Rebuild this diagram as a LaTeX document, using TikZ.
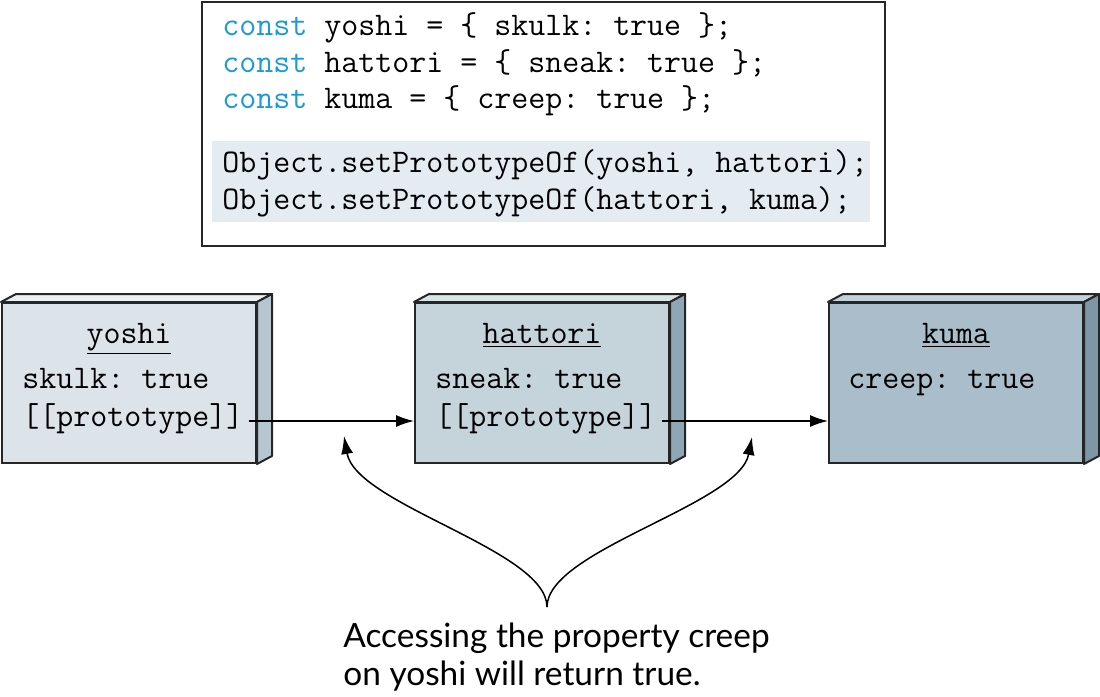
\documentclass[tikz,border=0pt]{standalone}
\usepackage{fontspec}
\newfontfamily\capfont{Lato}
\usetikzlibrary{arrows.meta}
\frenchspacing
\definecolor{constblue}{HTML}{1B9AD5}
\definecolor{codehl}{HTML}{E4ECF1}
\definecolor{yfront}{HTML}{DDE4E9}
\definecolor{ytop}{HTML}{EBF0F3}
\definecolor{yside}{HTML}{B5C6D0}
\definecolor{hfront}{HTML}{C5D3DB}
\definecolor{htop}{HTML}{DAE3E8}
\definecolor{hside}{HTML}{8FA6B4}
\definecolor{kfront}{HTML}{A9BECA}
\definecolor{ktop}{HTML}{C2D1DA}
\definecolor{kside}{HTML}{7E97A6}
\newcommand{\cdfont}{\ttfamily\frenchspacing\fontsize{16.5}{20}\selectfont}
\tikzset{
  front/.style={draw=black!85, line width=1pt, minimum width=127pt, minimum height=80pt, inner sep=0pt},
  face/.style={draw=black!85, line width=1pt, line join=round},
  code/.style={anchor=base west, inner sep=0pt, font=\cdfont},
  title/.style={anchor=base, inner sep=0pt, font=\cdfont},
  field/.style={anchor=base west, inner sep=0pt, font=\cdfont},
  link/.style={line width=0.75pt, -{Latex[length=9pt,width=6pt]}},
}
\begin{document}
\begin{tikzpicture}[x=0.5pt,y=-0.5pt]
\useasboundingbox (0,0) rectangle (1100,697);
% code box
\node[draw=black!85, line width=1pt, minimum width=341.5pt, minimum height=122pt, inner sep=0pt] (codebox) at (543.5,124) {};
\node[fill=codehl, minimum width=329pt, minimum height=40.5pt, inner sep=0pt] (hl) at (541,181.5) {};
\node[code] (c1) at (222,35) {\textcolor{constblue}{const} yoshi = \{ skulk: true \};};
\node[code] (c2) at (222,72) {\textcolor{constblue}{const} hattori = \{ sneak: true \};};
\node[code] (c3) at (222,108) {\textcolor{constblue}{const} kuma = \{ creep: true \};};
\node[code] (c4) at (222,172) {Object.setPrototypeOf(yoshi, hattori);};
\node[code] (c5) at (222,209) {Object.setPrototypeOf(hattori, kuma);};
% boxes
\foreach \nm/\cx/\fr/\tp/\sd in {yoshi/129/yfront/ytop/yside, hattori/542/hfront/htop/hside, kuma/956/kfront/ktop/kside}{
  \node[front, fill=\fr] (\nm) at (\cx,383) {};
  \draw[face, fill=\tp] (\nm.north west) -- ([shift={(15,-8)}]\nm.north west) -- ([shift={(15,-8)}]\nm.north east) -- (\nm.north east) -- cycle;
  \draw[face, fill=\sd] (\nm.north east) -- ([shift={(15,-8)}]\nm.north east) -- ([shift={(15,-8)}]\nm.south east) -- (\nm.south east) -- cycle;
  \node[title] (\nm t) at (\cx,343) {\underline{\nm}};
}
\node[field] (ys) at (22,388) {skulk: true};
\node[field] (yp) at (22,426) {[[prototype]]};
\node[field] (hs) at (435,388) {sneak: true};
\node[field] (hp) at (435,426) {[[prototype]]};
\node[field] (kc) at (848,388) {creep: true};
% links
\coordinate (ya) at ([shift={(5,-5)}]yp.base east);
\coordinate (ha) at ([shift={(5,-5)}]hp.base east);
\draw[link] (ya) -- (ya -| hattori.west);
\draw[link] (ha) -- (ha -| kuma.west);
% caption
\node[anchor=base west, inner sep=0pt, align=left, font=\capfont\fontsize{16.7}{19}\selectfont] (cap) at (343,685) {Accessing the property creep\\on yoshi will return true.};
\coordinate (cusp) at (547,607);
\coordinate (lt) at (344,436);
\coordinate (rt) at (752,437);
\draw[link] (cusp) .. controls (547,550) and (356,505) .. (lt);
\draw[link] (cusp) .. controls (547,550) and (739,505) .. (rt);
\end{tikzpicture}
\end{document}
